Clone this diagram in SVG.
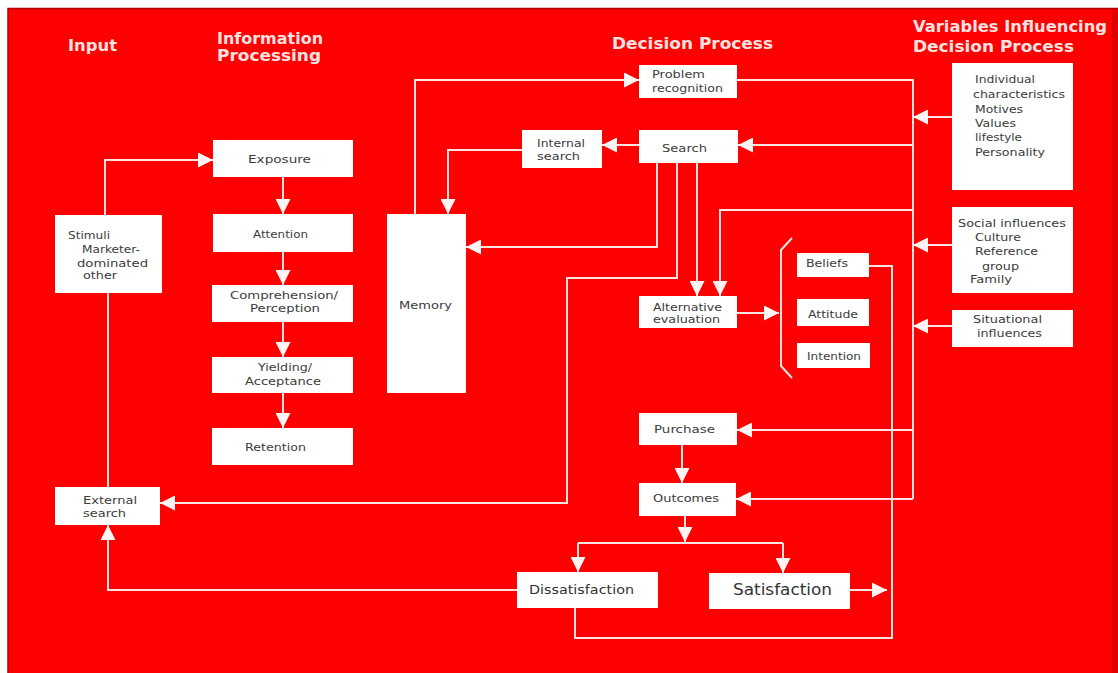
<svg xmlns="http://www.w3.org/2000/svg" width="1118" height="673" viewBox="0 0 1118 673">
  <defs>
    <marker id="arrow" viewBox="0 0 15 15" refX="15" refY="7.5" markerWidth="15" markerHeight="15" markerUnits="userSpaceOnUse" orient="auto">
      <path d="M0,0 L15,7.5 L0,15 Z" fill="#fff4f4"/>
    </marker>
    <style>
      .box { fill: #ffffff; }
      .hdr { font-family: "DejaVu Sans", "Liberation Sans", sans-serif; font-weight: bold; font-size: 16px; fill: #fde2e2; }
      .lbl { font-family: "DejaVu Sans", "Liberation Sans", sans-serif; font-size: 11px; fill: #3c3c3c; }
      .link { fill: none; stroke: #ffe2e2; stroke-width: 2; }
      .arr { marker-end: url(#arrow); }
    </style>
  </defs>

  <!-- page and panel -->
  <rect x="0" y="0" width="1118" height="673" fill="#ffffff"/>
  <rect x="8" y="8.5" width="1110" height="672" fill="#fe0000" stroke="#b00000" stroke-width="1.5"/>
  <rect x="1112" y="9" width="6" height="664" fill="#e00000"/>

  <!-- column headings -->
  <g id="headings">
    <text class="hdr" x="68" y="51" textLength="49" lengthAdjust="spacingAndGlyphs">Input</text>
    <text class="hdr" x="217" y="44" textLength="106" lengthAdjust="spacingAndGlyphs">Information</text>
    <text class="hdr" x="217" y="61" textLength="104" lengthAdjust="spacingAndGlyphs">Processing</text>
    <text class="hdr" x="612" y="49" textLength="161" lengthAdjust="spacingAndGlyphs">Decision Process</text>
    <text class="hdr" x="913" y="32" textLength="194" lengthAdjust="spacingAndGlyphs">Variables Influencing</text>
    <text class="hdr" x="913" y="52" textLength="161" lengthAdjust="spacingAndGlyphs">Decision Process</text>
  </g>

  <!-- connectors -->
  <g id="connectors">
    <path class="link arr" d="M105,215 V160 H213"/>
    <path class="link" d="M108,293 V487"/>
    <path class="link arr" d="M283,177 V214"/>
    <path class="link arr" d="M283,252 V285"/>
    <path class="link arr" d="M283,322 V357"/>
    <path class="link arr" d="M283,393 V428"/>
    <path class="link arr" d="M415,214 V80 H639"/>
    <path class="link arr" d="M639,145 H602"/>
    <path class="link arr" d="M522,150 H448 V214"/>
    <path class="link arr" d="M657,163 V247 H466"/>
    <path class="link arr" d="M677,163 V278 H567 V503 H160"/>
    <path class="link arr" d="M697,163 V296"/>
    <path class="link arr" d="M913,210 H720 V296"/>
    <path class="link" d="M737,80 H913 V499"/>
    <path class="link arr" d="M913,145 H738"/>
    <path class="link arr" d="M913,430 H737"/>
    <path class="link arr" d="M913,499 H736"/>
    <path class="link arr" d="M952,117 H913"/>
    <path class="link arr" d="M952,245 H913"/>
    <path class="link arr" d="M952,326 H913"/>
    <path class="link arr" d="M737,313 H779"/>
    <path class="link" d="M792,238 L781,250 V366 L792,378"/>
    <path class="link arr" d="M682,445 V483"/>
    <path class="link arr" d="M685,516 V542"/>
    <path class="link" d="M578,543 H783"/>
    <path class="link arr" d="M578,543 V572"/>
    <path class="link arr" d="M783,543 V573"/>
    <path class="link arr" d="M850,590 H887"/>
    <path class="link arr" d="M517,590 H108 V525"/>
    <path class="link" d="M575,608 V638 H892 V266 H869"/>
  </g>

  <!-- information processing -->
  <g id="exposure">
    <rect class="box" x="213" y="140" width="140" height="37"/>
    <text class="lbl" x="248" y="163" textLength="63" lengthAdjust="spacingAndGlyphs">Exposure</text>
  </g>
  <g id="attention">
    <rect class="box" x="213" y="214" width="140" height="38"/>
    <text class="lbl" x="253" y="238" textLength="55" lengthAdjust="spacingAndGlyphs">Attention</text>
  </g>
  <g id="comprehension">
    <rect class="box" x="212" y="285" width="141" height="37"/>
    <text class="lbl" x="230" y="299" textLength="108" lengthAdjust="spacingAndGlyphs">Comprehension/</text>
    <text class="lbl" x="250" y="312" textLength="70" lengthAdjust="spacingAndGlyphs">Perception</text>
  </g>
  <g id="yielding">
    <rect class="box" x="212" y="357" width="141" height="36"/>
    <text class="lbl" x="258" y="371" textLength="54" lengthAdjust="spacingAndGlyphs">Yielding/</text>
    <text class="lbl" x="245" y="385" textLength="76" lengthAdjust="spacingAndGlyphs">Acceptance</text>
  </g>
  <g id="retention">
    <rect class="box" x="212" y="428" width="141" height="37"/>
    <text class="lbl" x="245" y="451" textLength="61" lengthAdjust="spacingAndGlyphs">Retention</text>
  </g>

  <!-- input -->
  <g id="stimuli">
    <rect class="box" x="55" y="215" width="107" height="78"/>
    <text class="lbl" x="68" y="239" textLength="42" lengthAdjust="spacingAndGlyphs">Stimuli</text>
    <text class="lbl" x="82" y="253" textLength="58" lengthAdjust="spacingAndGlyphs">Marketer-</text>
    <text class="lbl" x="77" y="267" textLength="71" lengthAdjust="spacingAndGlyphs">dominated</text>
    <text class="lbl" x="83" y="279" textLength="34" lengthAdjust="spacingAndGlyphs">other</text>
  </g>
  <g id="external-search">
    <rect class="box" x="55" y="487" width="105" height="38"/>
    <text class="lbl" x="83" y="504" textLength="54" lengthAdjust="spacingAndGlyphs">External</text>
    <text class="lbl" x="83" y="517" textLength="43" lengthAdjust="spacingAndGlyphs">search</text>
  </g>

  <g id="memory">
    <rect class="box" x="387" y="214" width="79" height="179"/>
    <text class="lbl" x="399" y="309" textLength="53" lengthAdjust="spacingAndGlyphs">Memory</text>
  </g>

  <!-- decision process -->
  <g id="problem-recognition">
    <rect class="box" x="639" y="65" width="98" height="33"/>
    <text class="lbl" x="652" y="78" textLength="53" lengthAdjust="spacingAndGlyphs">Problem</text>
    <text class="lbl" x="652" y="92" textLength="71" lengthAdjust="spacingAndGlyphs">recognition</text>
  </g>
  <g id="internal-search">
    <rect class="box" x="522" y="130" width="80" height="38"/>
    <text class="lbl" x="537" y="147" textLength="48" lengthAdjust="spacingAndGlyphs">Internal</text>
    <text class="lbl" x="537" y="160" textLength="43" lengthAdjust="spacingAndGlyphs">search</text>
  </g>
  <g id="search">
    <rect class="box" x="639" y="130" width="99" height="33"/>
    <text class="lbl" x="662" y="152" textLength="45" lengthAdjust="spacingAndGlyphs">Search</text>
  </g>
  <g id="alternative-evaluation">
    <rect class="box" x="639" y="296" width="98" height="32"/>
    <text class="lbl" x="653" y="311" textLength="69" lengthAdjust="spacingAndGlyphs">Alternative</text>
    <text class="lbl" x="653" y="323" textLength="67" lengthAdjust="spacingAndGlyphs">evaluation</text>
  </g>
  <g id="beliefs">
    <rect class="box" x="797" y="253" width="72" height="24"/>
    <text class="lbl" x="806" y="267" textLength="42" lengthAdjust="spacingAndGlyphs">Beliefs</text>
  </g>
  <g id="attitude">
    <rect class="box" x="797" y="299" width="72" height="27"/>
    <text class="lbl" x="808" y="318" textLength="50" lengthAdjust="spacingAndGlyphs">Attitude</text>
  </g>
  <g id="intention">
    <rect class="box" x="797" y="343" width="73" height="25"/>
    <text class="lbl" x="807" y="360" textLength="54" lengthAdjust="spacingAndGlyphs">Intention</text>
  </g>
  <g id="purchase">
    <rect class="box" x="639" y="413" width="98" height="32"/>
    <text class="lbl" x="654" y="433" textLength="61" lengthAdjust="spacingAndGlyphs">Purchase</text>
  </g>
  <g id="outcomes">
    <rect class="box" x="639" y="483" width="97" height="33"/>
    <text class="lbl" x="653" y="502" textLength="66" lengthAdjust="spacingAndGlyphs">Outcomes</text>
  </g>
  <g id="dissatisfaction">
    <rect class="box" x="517" y="572" width="141" height="36"/>
    <text class="lbl" x="529" y="594" textLength="105" lengthAdjust="spacingAndGlyphs" style="font-size:13px;fill:#333">Dissatisfaction</text>
  </g>
  <g id="satisfaction">
    <rect class="box" x="709" y="573" width="141" height="36"/>
    <text class="lbl" x="733" y="595" textLength="99" lengthAdjust="spacingAndGlyphs" style="font-size:16px;fill:#333">Satisfaction</text>
  </g>

  <!-- influencing variables -->
  <g id="individual-characteristics">
    <rect class="box" x="952" y="63" width="121" height="127"/>
    <text class="lbl" x="975" y="83" textLength="60" lengthAdjust="spacingAndGlyphs">Individual</text>
    <text class="lbl" x="973" y="98" textLength="92" lengthAdjust="spacingAndGlyphs">characteristics</text>
    <text class="lbl" x="975" y="113" textLength="48" lengthAdjust="spacingAndGlyphs">Motives</text>
    <text class="lbl" x="975" y="127" textLength="41" lengthAdjust="spacingAndGlyphs">Values</text>
    <text class="lbl" x="975" y="141" textLength="47" lengthAdjust="spacingAndGlyphs">lifestyle</text>
    <text class="lbl" x="975" y="156" textLength="70" lengthAdjust="spacingAndGlyphs">Personality</text>
  </g>
  <g id="social-influences">
    <rect class="box" x="952" y="207" width="121" height="86"/>
    <text class="lbl" x="958" y="227" textLength="108" lengthAdjust="spacingAndGlyphs">Social influences</text>
    <text class="lbl" x="975" y="241" textLength="46" lengthAdjust="spacingAndGlyphs">Culture</text>
    <text class="lbl" x="975" y="255" textLength="63" lengthAdjust="spacingAndGlyphs">Reference</text>
    <text class="lbl" x="982" y="270" textLength="37" lengthAdjust="spacingAndGlyphs">group</text>
    <text class="lbl" x="970" y="283" textLength="42" lengthAdjust="spacingAndGlyphs">Family</text>
  </g>
  <g id="situational-influences">
    <rect class="box" x="952" y="310" width="121" height="37"/>
    <text class="lbl" x="973" y="323" textLength="69" lengthAdjust="spacingAndGlyphs">Situational</text>
    <text class="lbl" x="977" y="337" textLength="65" lengthAdjust="spacingAndGlyphs">influences</text>
  </g>
</svg>
